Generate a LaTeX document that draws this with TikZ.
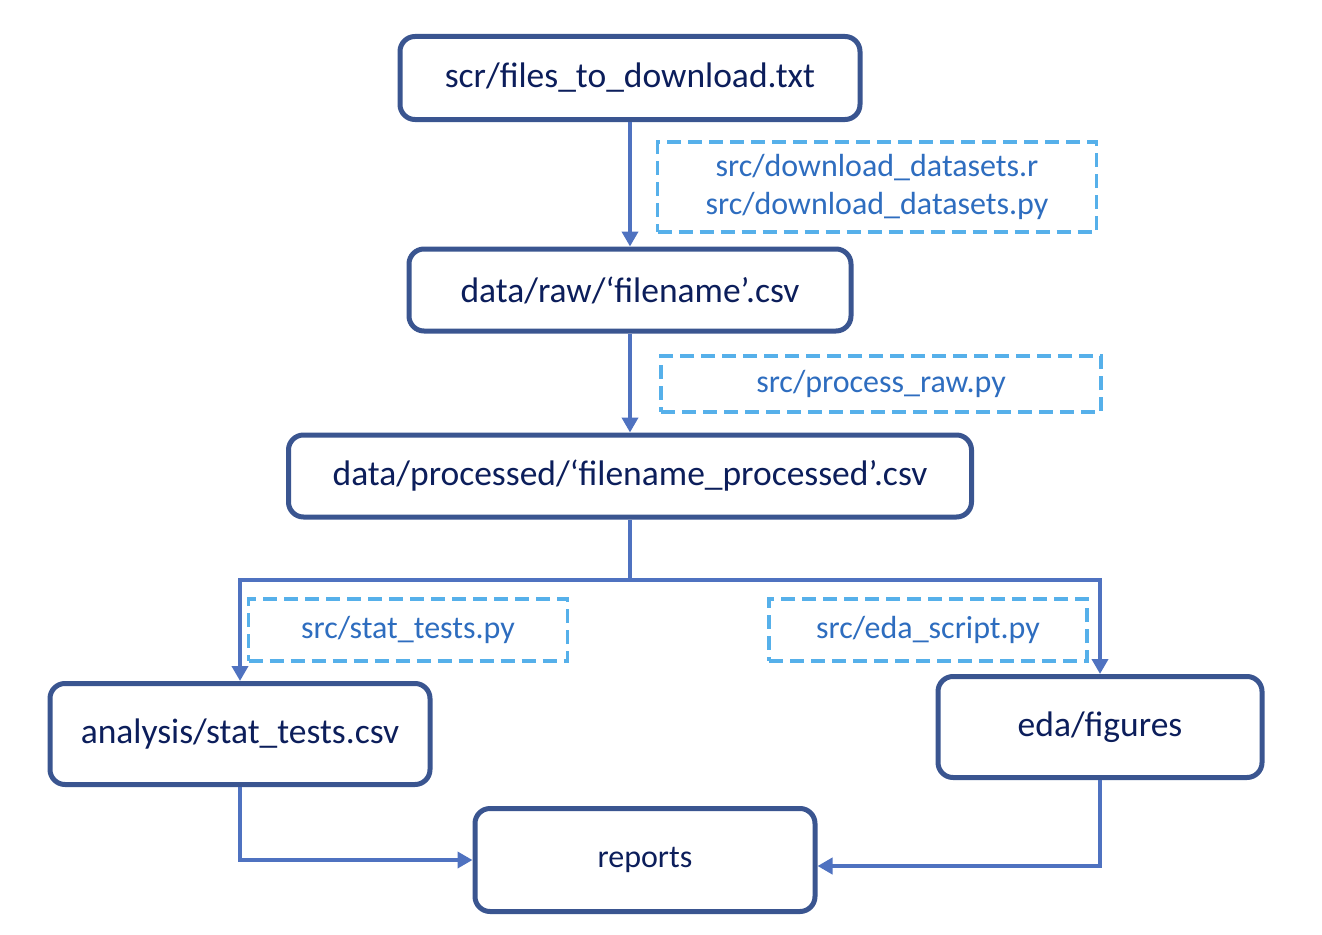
\documentclass[tikz,border=0pt]{standalone}
\usepackage{fontspec}
\setmainfont{Carlito}
\usetikzlibrary{arrows.meta}
\definecolor{boxline}{HTML}{3A5590}
\definecolor{flowline}{HTML}{4F72C0}
\definecolor{dashline}{HTML}{56B0EA}
\definecolor{boxtext}{HTML}{0C1E5B}
\definecolor{scripttext}{HTML}{2E6DBF}

\begin{document}
\begin{tikzpicture}[x=1pt,y=-1pt,>={Triangle[width=16pt,length=15pt]},
    filebox/.style={draw=boxline, line width=5pt, rounded corners=15pt, fill=white,
        text=boxtext, font=\fontsize{35.5}{40}\selectfont, inner sep=0pt},
    scriptbox/.style={draw=dashline, line width=3.5pt, dash pattern=on 14pt off 7pt,
        text=scripttext, font=\fontsize{32}{38}\selectfont, align=center, inner sep=0pt},
    flow/.style={draw=flowline, line width=4.5pt}]
    \useasboundingbox (0,0) rectangle (1322,934);

    \node[filebox, minimum width=460pt, minimum height=83pt] (files) at (630,78) {scr/files\_to\_download.txt};
    \node[filebox, minimum width=442pt, minimum height=82pt] (raw) at (630,290) {data/raw/‘filename’.csv};
    \node[filebox, minimum width=683pt, minimum height=82pt] (proc) at (630,476) {data/processed/‘filename\_processed’.csv};
    \node[filebox, minimum width=380pt, minimum height=101pt] (stat) at (240,734) {analysis/stat\_tests.csv};
    \node[filebox, minimum width=324pt, minimum height=101pt] (eda) at (1100,727) {eda/figures};
    \node[filebox, minimum width=340pt, minimum height=103pt, font=\fontsize{32}{38}\selectfont] (rep) at (645,860) {reports};

    \node[scriptbox, minimum width=439pt, minimum height=90pt] (dl) at (877,187) {src/download\_datasets.r\\src/download\_datasets.py};
    \node[scriptbox, minimum width=440pt, minimum height=56pt] (pr) at (881,384) {src/process\_raw.py};
    \node[scriptbox, minimum width=319pt, minimum height=62pt] (st) at (408,630) {src/stat\_tests.py};
    \node[scriptbox, minimum width=318pt, minimum height=62pt] (es) at (928,630) {src/eda\_script.py};

    \coordinate (split) at (630,580);

    \draw[flow,->] (files) -- (raw);
    \draw[flow,->] (raw) -- (proc);
    \draw[flow] (proc) -- (split);
    \draw[flow,->] (split) -| (stat);
    \draw[flow,->] (split) -| (eda);
    \draw[flow,->] (stat) |- (rep);
    \draw[flow,->] (eda) |- ([yshift=-6pt]rep.east);
\end{tikzpicture}
\end{document}
